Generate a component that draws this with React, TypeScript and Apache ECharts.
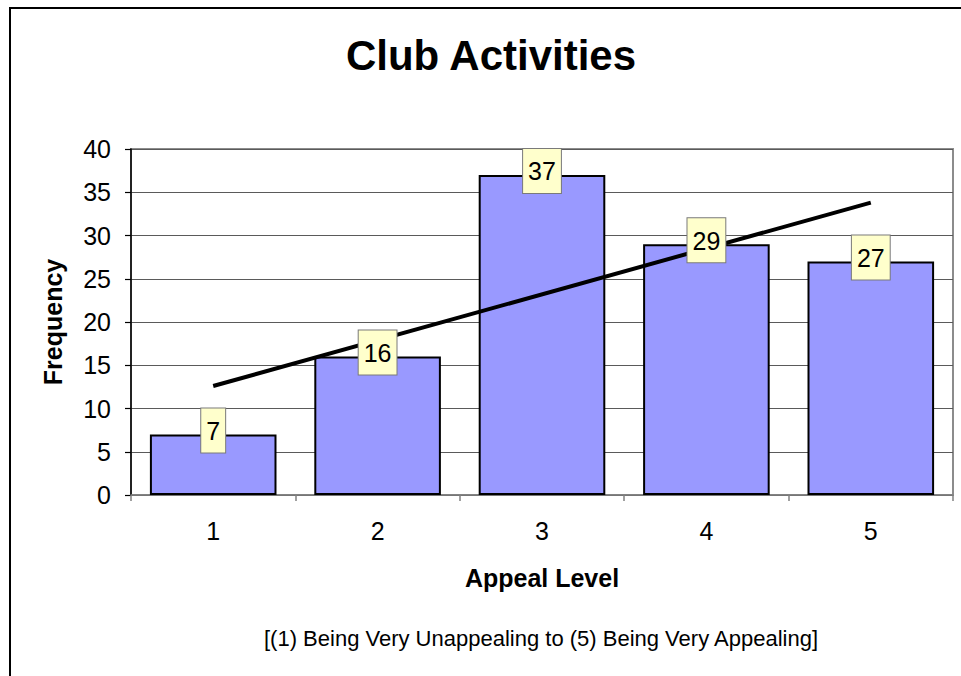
import React, { useEffect, useRef } from "react";
import * as echarts from "echarts";

const categories = ["1", "2", "3", "4", "5"];
const frequencies = [7, 16, 37, 29, 27];
// linear trend line: value at category "1" and at category "5"
const trendStart = 12.6;
const trendEnd = 33.8;
const yMin = 0;
const yMax = 40;
const yStep = 5;

const titleText = "Club Activities";
const yName = "Frequency";
const xName = "Appeal Level";
const noteText = "[(1) Being Very Unappealing to (5) Being Very Appealing]";

const FONT = "'Liberation Sans', Arial, Helvetica, sans-serif";

export default function App() {
  const ref = useRef<HTMLDivElement>(null);
  useEffect(() => {
    if (!ref.current) return;
    const chart = echarts.init(ref.current, undefined, { renderer: "svg" });
    chart.setOption({
      animation: false,
      backgroundColor: "#ffffff",
      grid: {
        left: 131,
        top: 149,
        right: 8,
        bottom: 181,
        show: true,
        borderColor: "#8c8c8c",
        borderWidth: 2,
        backgroundColor: "transparent",
      },
      graphic: [
        {
          type: "rect",
          shape: { x: 10, y: 8, width: 1000, height: 700 },
          style: { fill: "none", stroke: "#000", lineWidth: 2 },
          silent: true,
          z: 0,
        },
        {
          type: "text",
          x: 491,
          y: 55,
          style: {
            text: titleText,
            font: `bold 42px ${FONT}`,
            fill: "#000",
            textAlign: "center",
            textVerticalAlign: "middle",
          },
        },
        {
          type: "text",
          x: 53,
          y: 322,
          rotation: Math.PI / 2,
          style: {
            text: yName,
            font: `bold 25px ${FONT}`,
            fill: "#000",
            textAlign: "center",
            textVerticalAlign: "middle",
          },
        },
        {
          type: "text",
          x: 542,
          y: 578,
          style: {
            text: xName,
            font: `bold 25px ${FONT}`,
            fill: "#000",
            textAlign: "center",
            textVerticalAlign: "middle",
          },
        },
        {
          type: "text",
          x: 541,
          y: 638,
          style: {
            text: noteText,
            font: `22px ${FONT}`,
            fill: "#000",
            textAlign: "center",
            textVerticalAlign: "middle",
          },
        },
      ],
      xAxis: {
        type: "category",
        data: categories,
        boundaryGap: true,
        axisLine: { show: true, lineStyle: { color: "#808080", width: 1.5 } },
        axisTick: { show: true, length: 6, lineStyle: { color: "#808080", width: 1.5 } },
        axisLabel: { color: "#000", fontSize: 25, fontFamily: FONT, margin: 23 },
        splitLine: { show: false },
      },
      yAxis: {
        type: "value",
        min: yMin,
        max: yMax,
        interval: yStep,
        axisLine: { show: true, lineStyle: { color: "#000", width: 1.5 } },
        axisTick: { show: true, length: 6, lineStyle: { color: "#000", width: 1.2 } },
        axisLabel: { color: "#000", fontSize: 25, fontFamily: FONT, margin: 20 },
        splitLine: { show: true, lineStyle: { color: "#5a5a5a", width: 1 } },
      },
      series: [
        {
          type: "bar",
          data: frequencies,
          barCategoryGap: "23%",
          z: 2,
          itemStyle: { color: "#9999ff", borderColor: "#000", borderWidth: 2 },
        },
        {
          type: "line",
          data: [
            [0, trendStart],
            [categories.length - 1, trendEnd],
          ],
          symbol: "none",
          z: 3,
          lineStyle: { color: "#000", width: 4 },
          silent: true,
        },
        {
          type: "bar",
          data: frequencies,
          barCategoryGap: "23%",
          barGap: "-100%",
          z: 4,
          silent: true,
          itemStyle: { color: "rgba(0,0,0,0)", borderWidth: 0 },
          label: {
            show: true,
            position: "top",
            distance: 0,
            offset: [0, 18],
            color: "#000",
            fontSize: 25,
            fontFamily: FONT,
            lineHeight: 25,
            backgroundColor: "#ffffcc",
            borderColor: "#7a7a7a",
            borderWidth: 1,
            padding: [10, 5, 9, 5],
          },
        },
      ],
    });
    return () => chart.dispose();
  }, []);
  return (
    <div
      ref={ref}
      style={{ position: "fixed", left: 0, top: 0, width: 961, height: 676 }}
    />
  );
}
